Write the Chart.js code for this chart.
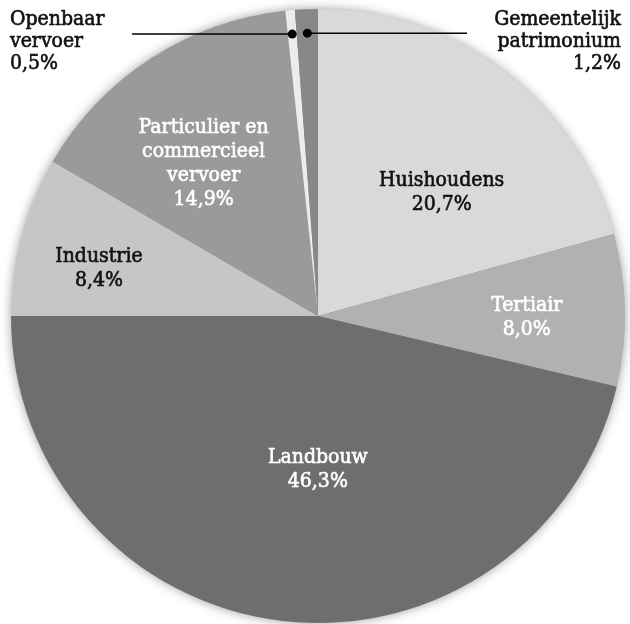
<!DOCTYPE html>
<html>
<head>
<meta charset="utf-8">
<script src="https://cdn.jsdelivr.net/npm/chart.js@4"></script>
<style>
  html, body { margin: 0; padding: 0; background: #fff; }
  #wrap { width: 630px; height: 624px; position: relative; }
</style>
</head>
<body>
<div id="wrap"><canvas id="pie"></canvas></div>
<script>
// Data
const sectors = ['Huishoudens', 'Tertiair', 'Landbouw', 'Industrie',
  'Particulier en commercieel vervoer', 'Openbaar vervoer', 'Gemeentelijk patrimonium'];
const shares = [20.7, 8.0, 46.3, 8.4, 14.9, 0.5, 1.2];
const sliceColors = ['#d9d9d9', '#b1b1b1', '#6e6e6c', '#c6c6c6', '#9a9a9a', '#ececec', '#888888'];

// Label styling (line breaks, text colour, placement relative to the slice)
const labelLines = [['Huishoudens'], ['Tertiair'], ['Landbouw'], ['Industrie'],
  ['Particulier en', 'commercieel', 'vervoer'], ['Openbaar', 'vervoer'], ['Gemeentelijk', 'patrimonium']];
const labelColors = ['#111', '#fff', '#fff', '#111', '#fff', '#111', '#111'];
const labelRadius = [0.57, 0.68, 0.5, 0.73, 0.62];
const labelNudge = [7.7, 1.6, -6.6, -3, -4]; // degrees
const FONT = '21px "DejaVu Serif Condensed", "DejaVu Serif", serif';
const LINE = 24;

const pct = v => v.toFixed(1).replace('.', ',') + '%';

// slightly heavier text, closer to the semibold face of the original
function drawText(ctx, t, x, y, color) {
  ctx.fillStyle = color;
  ctx.strokeStyle = color;
  ctx.lineWidth = 0.6;
  ctx.fillText(t, x, y);
  ctx.strokeText(t, x, y);
}

const shadowPlugin = {
  id: 'shadow',
  beforeDatasetsDraw(chart) {
    const arc = chart.getDatasetMeta(0).data[0];
    const ctx = chart.ctx;
    ctx.save();
    ctx.shadowColor = 'rgba(0,0,0,0.45)';
    ctx.shadowBlur = 12;
    ctx.fillStyle = '#888';
    ctx.beginPath();
    ctx.arc(arc.x, arc.y, arc.outerRadius - 1, 0, Math.PI * 2);
    ctx.fill();
    ctx.restore();
  }
};

const labelPlugin = {
  id: 'labels',
  afterDatasetsDraw(chart) {
    const ctx = chart.ctx;
    const arcs = chart.getDatasetMeta(0).data;
    ctx.save();
    ctx.font = FONT;
    ctx.textBaseline = 'middle';

    arcs.forEach((arc, i) => {
      const lines = labelLines[i].concat(pct(shares[i]));
      const mid = (arc.startAngle + arc.endAngle) / 2;
      if (i < 5) {
        const a = mid + labelNudge[i] * Math.PI / 180;
        const r = arc.outerRadius * labelRadius[i];
        const cx = arc.x + Math.cos(a) * r;
        const cy = arc.y + Math.sin(a) * r;
        ctx.textAlign = 'center';
        lines.forEach((t, k) => {
          drawText(ctx, t, cx, cy + (k - (lines.length - 1) / 2) * LINE, labelColors[i]);
        });
      } else {
        // small slices: dot inside the slice with a leader line to the label
        const r = arc.outerRadius * 0.922;
        const dx = arc.x + Math.cos(mid) * r;
        const dy = arc.y + Math.sin(mid) * r;
        const left = i === 5;
        ctx.strokeStyle = '#000';
        ctx.lineWidth = 1.5;
        ctx.beginPath();
        ctx.moveTo(dx, dy);
        ctx.lineTo(left ? 132 : 467, dy);
        ctx.stroke();
        ctx.fillStyle = '#000';
        ctx.beginPath();
        ctx.arc(dx, dy, 4.5, 0, Math.PI * 2);
        ctx.fill();
        ctx.textAlign = left ? 'left' : 'right';
        lines.forEach((t, k) => {
          drawText(ctx, t, left ? 10 : 621, 20 + k * 22, labelColors[i]);
        });
      }
    });
    ctx.restore();
  }
};

new Chart(document.getElementById('pie'), {
  type: 'pie',
  data: {
    labels: sectors,
    datasets: [{
      data: shares,
      backgroundColor: sliceColors,
      borderWidth: 0
    }]
  },
  options: {
    responsive: true,
    maintainAspectRatio: false,
    animation: false,
    layout: { padding: { left: 11, right: 5, top: 9, bottom: 1 } },
    plugins: {
      legend: { display: false },
      tooltip: { enabled: false }
    }
  },
  plugins: [shadowPlugin, labelPlugin]
});
</script>
</body>
</html>
